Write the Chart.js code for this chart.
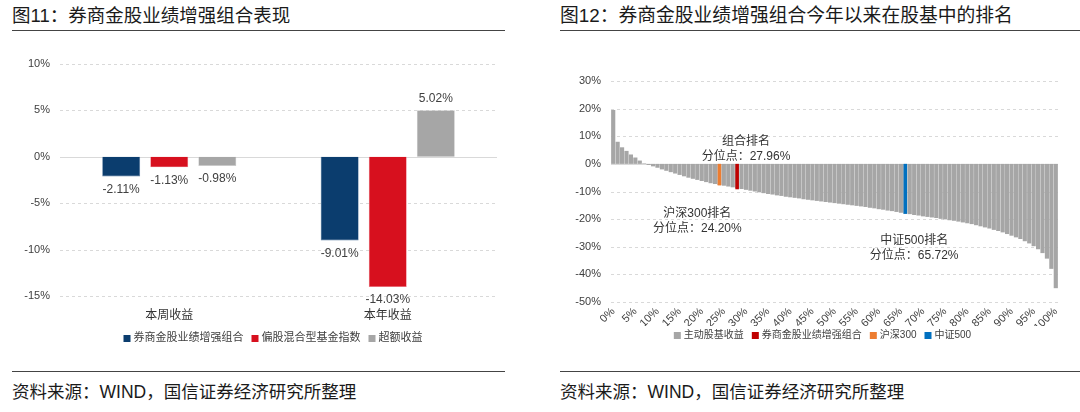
<!DOCTYPE html>
<html><head><meta charset="utf-8">
<script src="https://cdn.jsdelivr.net/npm/chart.js@4.4.0/dist/chart.umd.min.js"></script>
<style>
body{margin:0;background:#fff;width:1080px;height:412px;overflow:hidden;position:relative;font-family:"Liberation Sans","Noto Sans CJK SC",sans-serif;}
.title{position:absolute;top:4px;font-size:18.5px;color:#1a1a1a;line-height:24px;white-space:nowrap;}
.rule{position:absolute;height:0;border-top:1.5px solid #444;}
.src{position:absolute;top:381px;font-size:17.5px;color:#1a1a1a;line-height:22px;white-space:nowrap;}
canvas{position:absolute;}
</style></head><body>
<div class="title" style="left:12px">图11：券商金股业绩增强组合表现</div>
<div class="rule" style="left:12px;width:493px;top:30px"></div>
<div class="title" style="left:560px;font-size:18.8px">图12：券商金股业绩增强组合今年以来在股基中的排名</div>
<div class="rule" style="left:560px;width:520px;top:30px"></div>
<canvas id="c1" width="530" height="320" style="left:0;top:40px"></canvas>
<canvas id="c2" width="535" height="320" style="left:545px;top:40px"></canvas>
<div class="rule" style="left:12px;width:493px;top:371px"></div>
<div class="rule" style="left:560px;width:520px;top:371px"></div>
<div class="src" style="left:12px">资料来源：WIND，国信证券经济研究所整理</div>
<div class="src" style="left:560px">资料来源：WIND，国信证券经济研究所整理</div>
<script>
// ---------- Chart 1 data ----------
const periodCategories = ['本周收益', '本年收益'];
const portfolioReturns = [-2.11, -9.01];
const fundIndexReturns = [-1.13, -14.03];
const excessReturns = [-0.98, 5.02];
const seriesNames1 = ['券商金股业绩增强组合', '偏股混合型基金指数', '超额收益'];

// ---------- Chart 2 data ----------
const percentileLabels = ['0%','1%','2%','3%','4%','5%','6%','7%','8%','9%','10%','11%','12%','13%','14%','15%','16%','17%','18%','19%','20%','21%','22%','23%','24%','25%','26%','27%','28%','29%','30%','31%','32%','33%','34%','35%','36%','37%','38%','39%','40%','41%','42%','43%','44%','45%','46%','47%','48%','49%','50%','51%','52%','53%','54%','55%','56%','57%','58%','59%','60%','61%','62%','63%','64%','65%','66%','67%','68%','69%','70%','71%','72%','73%','74%','75%','76%','77%','78%','79%','80%','81%','82%','83%','84%','85%','86%','87%','88%','89%','90%','91%','92%','93%','94%','95%','96%','97%','98%','99%','100%'];
const shownTickLabels = ['0%','5%','10%','15%','20%','25%','30%','35%','40%','45%','50%','55%','60%','65%','70%','75%','80%','85%','90%','95%','100%'];
const activeFundReturns = [19.5,8.0,6.0,4.7,3.4,2.3,1.2,0.2,-0.4,-0.9,
 -1.4,-2.0,-2.5,-3.0,-3.5,-4.0,-4.5,-5.0,-5.4,-5.8,
 -6.2,-6.6,-7.0,-7.3,-7.6,-7.9,-8.2,-8.5,-8.8,-9.1,
 -9.4,-9.7,-10.0,-10.3,-10.6,-10.9,-11.1,-11.4,-11.6,-11.9,
 -12.1,-12.3,-12.5,-12.8,-13.0,-13.2,-13.4,-13.6,-13.8,-14.0,
 -14.2,-14.4,-14.6,-14.8,-15.0,-15.2,-15.4,-15.6,-15.9,-16.1,
 -16.4,-16.6,-16.9,-17.1,-17.4,-17.7,-18.0,-18.2,-18.5,-18.7,
 -19.0,-19.2,-19.4,-19.6,-19.9,-20.1,-20.4,-20.6,-20.9,-21.2,
 -21.5,-21.8,-22.2,-22.6,-23.0,-23.4,-23.9,-24.3,-24.8,-25.4,
 -26.0,-26.6,-27.2,-28.0,-28.8,-29.8,-30.9,-32.3,-34.3,-38.0,-45.0];
const seriesNames2 = ['主动股基收益', '券商金股业绩增强组合', '沪深300', '中证500'];
const portfolioRankIndex = 28, portfolioRankValue = -9.2;
const hs300RankIndex = 24, hs300RankValue = -7.8;
const csi500RankIndex = 66, csi500RankValue = -18.1;
const rankNotes = [
  {lines: ['组合排名', '分位点：27.96%'], at: 30, value: 5.3},
  {lines: ['沪深300排名', '分位点：24.20%'], at: 19, value: -20.8},
  {lines: ['中证500排名', '分位点：65.72%'], at: 68, value: -30.7}
];

const FONT = '"Liberation Sans","Noto Sans CJK SC",sans-serif';
Chart.defaults.font.family = FONT;
Chart.defaults.color = '#404040';
Chart.defaults.animation = false;

function sparse(idx, val) { return percentileLabels.map((_, i) => i === idx ? val : null); }

// dashed horizontal gridlines + solid zero line
const gridPlugin = {
  id: 'gridPlugin',
  beforeDatasetsDraw(chart) {
    const ys = chart.scales.y, a = chart.chartArea, ctx = chart.ctx;
    ctx.save(); ctx.lineWidth = 1; ctx.strokeStyle = '#D9D9D9';
    ys.ticks.forEach(t => {
      const y = Math.round(ys.getPixelForValue(t.value)) + 0.5;
      ctx.setLineDash(t.value === 0 ? [] : [3, 3]);
      ctx.beginPath(); ctx.moveTo(a.left, y); ctx.lineTo(a.right, y); ctx.stroke();
    });
    ctx.restore();
  }
};

// legend drawn at fixed offset below the plot
function makeLegend(offsetY, shiftX, fontSize) {
  return {
    id: 'customLegend',
    afterDraw(chart) {
      const ctx = chart.ctx; ctx.save();
      ctx.font = fontSize + 'px ' + FONT; ctx.textBaseline = 'middle';
      const box = 7, gapBT = 3, gapItem = 8;
      const items = chart.data.datasets.map(d => ({t: d.label, c: d.backgroundColor}));
      let total = 0;
      items.forEach((it, i) => { it.w = ctx.measureText(it.t).width; total += box + gapBT + it.w + (i ? gapItem : 0); });
      let x = chart.width / 2 + shiftX - total / 2;
      const y = chart.chartArea.bottom + offsetY;
      items.forEach(it => {
        ctx.fillStyle = it.c; ctx.fillRect(x, Math.round(y - box / 2), box, box);
        x += box + gapBT;
        ctx.fillStyle = '#404040'; ctx.fillText(it.t, x, y);
        x += it.w + gapItem;
      });
      ctx.restore();
    }
  };
}

const barLabels = {
  id: 'barLabels',
  afterDatasetsDraw(chart) {
    const ctx = chart.ctx; ctx.save();
    ctx.font = '12px ' + FONT; ctx.fillStyle = '#404040'; ctx.textAlign = 'center'; ctx.textBaseline = 'middle';
    chart.data.datasets.forEach((ds, i) => {
      chart.getDatasetMeta(i).data.forEach((bar, j) => {
        const v = ds.data[j];
        ctx.fillText(v.toFixed(2) + '%', bar.x, v < 0 ? bar.y + 13 : bar.y - 12);
      });
    });
    ctx.restore();
  }
};

const notes = {
  id: 'notes',
  afterDatasetsDraw(chart) {
    const ctx = chart.ctx; ctx.save();
    ctx.font = '12px ' + FONT; ctx.fillStyle = '#333'; ctx.textAlign = 'center'; ctx.textBaseline = 'middle';
    rankNotes.forEach(n => {
      const x = chart.scales.x.getPixelForValue(n.at), y = chart.scales.y.getPixelForValue(n.value);
      ctx.fillText(n.lines[0], x, y - 7.5);
      ctx.fillText(n.lines[1], x, y + 7.5);
    });
    ctx.restore();
  }
};

new Chart(document.getElementById('c1'), {
  type: 'bar',
  data: {
    labels: periodCategories,
    datasets: [
      {label: seriesNames1[0], data: portfolioReturns, backgroundColor: '#0B3D6E', borderColor: '#5A7DA0', borderWidth: 0.6},
      {label: seriesNames1[1], data: fundIndexReturns, backgroundColor: '#D7101E', borderColor: '#F08090', borderWidth: 0.6},
      {label: seriesNames1[2], data: excessReturns, backgroundColor: '#A6A6A6', borderColor: '#C8C8C8', borderWidth: 0.6}
    ]
  },
  options: {
    responsive: false, devicePixelRatio: 1,
    categoryPercentage: 0.66, barPercentage: 0.79,
    layout: {padding: {left: 10, right: 33, top: 24, bottom: 38}},
    plugins: {tooltip: {enabled: false}, legend: {display: false}},
    scales: {
      x: {grid: {display: false, drawTicks: false}, border: {display: false},
          afterFit: s => { s.height = 26; },
          ticks: {padding: 12, font: {size: 12}, color: '#333'}},
      y: {min: -15, max: 10, grid: {display: false, drawTicks: false}, border: {display: false},
          afterFit: s => { s.width = 50; },
          ticks: {stepSize: 5, padding: 10, font: {size: 11}, color: '#404040', callback: v => v + '%'}}
    }
  },
  plugins: [gridPlugin, barLabels, makeLegend(42, 8, 11)]
});

new Chart(document.getElementById('c2'), {
  type: 'bar',
  data: {
    labels: percentileLabels,
    datasets: [
      {label: seriesNames2[0], data: activeFundReturns, backgroundColor: '#A6A6A6', order: 1, barPercentage: 0.94, categoryPercentage: 1},
      {label: seriesNames2[1], data: sparse(portfolioRankIndex, portfolioRankValue), backgroundColor: '#C00000', order: 0, grouped: false, barPercentage: 0.8, categoryPercentage: 1},
      {label: seriesNames2[2], data: sparse(hs300RankIndex, hs300RankValue), backgroundColor: '#ED7D31', order: 0, grouped: false, barPercentage: 0.8, categoryPercentage: 1},
      {label: seriesNames2[3], data: sparse(csi500RankIndex, csi500RankValue), backgroundColor: '#0070C0', order: 0, grouped: false, barPercentage: 0.8, categoryPercentage: 1}
    ]
  },
  options: {
    responsive: false, devicePixelRatio: 1,
    layout: {padding: {left: 10, right: 22, top: 41, bottom: 34}},
    plugins: {tooltip: {enabled: false}, legend: {display: false}},
    scales: {
      x: {grid: {display: false, drawTicks: false}, border: {display: false},
          afterFit: s => { s.height = 24; },
          ticks: {autoSkip: false, minRotation: 45, maxRotation: 45, padding: 3, font: {size: 11}, color: '#404040',
                  callback: function (v) { const l = this.getLabelForValue(v); return shownTickLabels.includes(l) ? l : ''; }}},
      y: {min: -50, max: 30, grid: {display: false, drawTicks: false}, border: {display: false},
          afterFit: s => { s.width = 56; },
          ticks: {stepSize: 10, padding: 10, font: {size: 11}, color: '#404040', callback: v => v + '%'}}
    }
  },
  plugins: [gridPlugin, notes, makeLegend(33, 10, 10)]
});
</script>
</body></html>
